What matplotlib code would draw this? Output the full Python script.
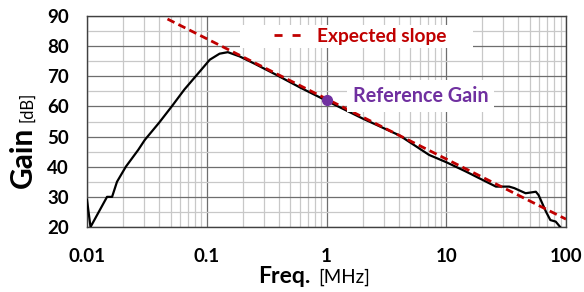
import matplotlib
matplotlib.use("Agg")
import matplotlib.pyplot as plt
from matplotlib.patches import Rectangle
from matplotlib.ticker import LogLocator, MultipleLocator, FixedLocator, FixedFormatter, NullFormatter

plt.rcParams["font.family"] = ["Lato", "DejaVu Sans"]

# measured gain curve [MHz] / [dB]
freq = [0.01, 0.0107, 0.0147, 0.0162, 0.0178, 0.0211, 0.0268, 0.0304, 0.04, 0.051,
        0.065, 0.0875, 0.106, 0.128, 0.15, 0.188, 0.25, 0.38, 0.6, 1.0,
        2.0, 4.06, 7.2, 10, 14.6, 26.0, 33.5, 37, 46, 56,
        59, 68, 74, 82, 89]
gain = [29, 20, 30, 30, 35, 40, 45.6, 48.9, 54.6, 60,
        65.6, 71.6, 75.5, 77.5, 78.0, 76.6, 74.2, 70.5, 66.3, 61.9,
        56.0, 50.4, 43.9, 41.5, 38.4, 33.4, 33.4, 32.9, 31.2, 31.7,
        30.6, 25.1, 22.3, 21.8, 20.1]

# expected -20 dB/dec slope
slope_f = [0.047, 100]
slope_g = [89.0, 22.6]

ref_f = 1.0
ref_g = 62.2

xticks = [0.01, 0.1, 1, 10, 100]
xtick_labels = ["0.01", "0.1", "1", "10", "100"]

red = "#C00000"
purple = "#7030A0"

fig = plt.figure(figsize=(5.84, 2.92), dpi=100)
ax = fig.add_axes([87 / 584, 1 - 227 / 292, 479 / 584, 211 / 292])

ax.set_xscale("log")
ax.set_xlim(0.01, 100)
ax.set_ylim(20, 90)
ax.set_axisbelow(True)

ax.xaxis.set_major_locator(FixedLocator(xticks))
ax.xaxis.set_major_formatter(FixedFormatter(xtick_labels))
ax.xaxis.set_minor_locator(LogLocator(base=10, subs=range(2, 10)))
ax.xaxis.set_minor_formatter(NullFormatter())
ax.yaxis.set_major_locator(MultipleLocator(10))
ax.yaxis.set_minor_locator(MultipleLocator(5))

ax.grid(which="major", color="#6e6e6e", linewidth=0.9)
ax.grid(which="minor", color="#c8c8c8", linewidth=0.9)

ax.tick_params(which="both", length=0)
ax.tick_params(axis="x", pad=15, labelsize=13.5)
ax.tick_params(axis="y", pad=13, labelsize=13.5)
for lab in ax.get_xticklabels() + ax.get_yticklabels():
    lab.set_fontweight("bold")
for sp in ax.spines.values():
    sp.set_color("#404040")
    sp.set_linewidth(1.0)

ax.plot(freq, gain, color="black", linewidth=1.6, zorder=3)
slope_line, = ax.plot(slope_f, slope_g, color=red, linewidth=2.0,
                      linestyle=(0, (2.8, 1.6)), zorder=4, label="Expected slope")
ax.plot([ref_f], [ref_g], "o", color=purple, markersize=7, zorder=5)

# white backing behind legend
ax.add_patch(Rectangle((0.319, 0.848), 0.487, 0.109, transform=ax.transAxes,
                       facecolor="white", edgecolor="none", zorder=1.5))
leg = ax.legend(handles=[slope_line], loc="center", bbox_to_anchor=(0.57, 0.903),
                frameon=False, handlelength=1.55, handletextpad=0.7,
                prop={"weight": "bold", "size": 13.8})
leg.get_texts()[0].set_color(red)
leg.legend_handles[0].set_linestyle((0, (2.9, 3.6)))

ax.annotate("Reference Gain", xy=(ref_f, ref_g), xytext=(19, 3),
            textcoords="offset points", va="center", ha="left",
            color=purple, fontsize=14.2, fontweight="bold", zorder=6,
            bbox=dict(boxstyle="square,pad=0.3", facecolor="white", edgecolor="none"))

# axis titles: bold name + regular unit
fig.text(32 / 584, 1 - 188 / 292, "Gain", rotation=90, rotation_mode="anchor",
         ha="left", va="baseline", fontsize=21.5, fontweight="bold")
fig.text(32 / 584, 1 - 122 / 292, "[dB]", rotation=90, rotation_mode="anchor",
         ha="left", va="baseline", fontsize=12)
fig.text(311 / 584, 1 - 283 / 292, "Freq.", ha="right", va="baseline",
         fontsize=16.5, fontweight="bold")
fig.text(318 / 584, 1 - 283 / 292, "[MHz]", ha="left", va="baseline", fontsize=13.5)

fig.savefig("out.png", dpi=100, facecolor="white")
